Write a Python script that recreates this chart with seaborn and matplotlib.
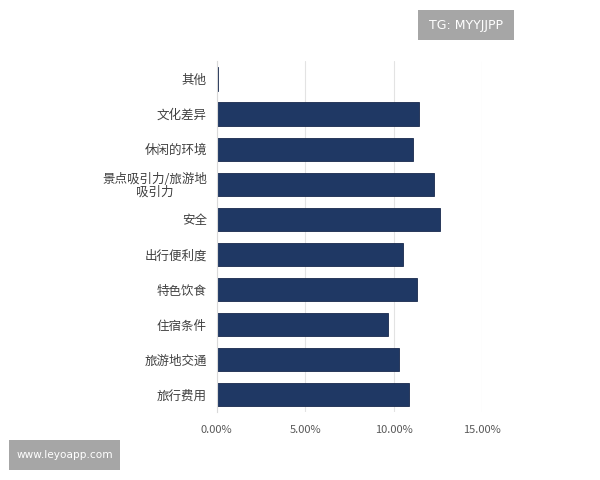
import matplotlib
matplotlib.use("Agg")
import matplotlib.pyplot as plt
import seaborn as sns
import pandas as pd
from matplotlib.ticker import FuncFormatter
from matplotlib.patches import Rectangle

categories = ["其他", "文化差异", "休闲的环境", "景点吸引力/旅游地\n吸引力", "安全",
              "出行便利度", "特色饮食", "住宿条件", "旅游地交通", "旅行费用"]
values = [0.10, 11.45, 11.10, 12.25, 12.60, 10.50, 11.33, 9.68, 10.30, 10.83]
x_ticks = [0, 5, 10, 15]

sns.set_theme(style="white")
plt.rcParams['font.family'] = ['Noto Sans CJK SC', 'DejaVu Sans']

df = pd.DataFrame({"cat": categories, "val": values})

fig = plt.figure(figsize=(6, 4.8), dpi=100)
ax = fig.add_axes([0.361, 0.141, 0.443, 0.731])
sns.barplot(data=df, x="val", y="cat", orient="h", color="#1f3864",
            width=0.66, edgecolor="#18294d", linewidth=0.6, saturation=1, ax=ax)

ax.set_xlim(0, 15)
ax.set_xticks(x_ticks)
ax.xaxis.set_major_formatter(FuncFormatter(lambda v, p: f"{v:.2f}%"))
ax.grid(axis="x", color="#e3e3e3", linewidth=0.8)
ax.set_axisbelow(True)
for s in ["top", "right", "bottom"]:
    ax.spines[s].set_visible(False)
ax.spines["left"].set_color("#d9d9d9")
ax.spines["left"].set_linewidth(0.8)
ax.set_xlabel("")
ax.set_ylabel("")
ax.tick_params(axis="y", length=0, pad=7, labelsize=9, labelcolor="#404040")
ax.tick_params(axis="x", length=0, pad=9, labelsize=8, labelcolor="#595959")
for t in ax.get_yticklabels():
    t.set_multialignment("center")
    t.set_linespacing(1.0)

# watermark boxes (pixel coords -> figure fractions)
def box(x0, y0, x1, y1, label, fs):
    W, H = 600, 480
    fig.patches.append(Rectangle((x0 / W, 1 - y1 / H), (x1 - x0) / W, (y1 - y0) / H,
                                 transform=fig.transFigure, facecolor="#a6a6a6",
                                 edgecolor="none", zorder=5))
    fig.text((x0 + x1) / 2 / W, 1 - (y0 + y1) / 2 / H, label, ha="center", va="center",
             color="white", fontsize=fs, family=["DejaVu Sans"], zorder=6)

box(418, 10, 514, 40, "TG: MYYJJPP", 9)
box(9, 440, 120, 470, "www.leyoapp.com", 7.6)

fig.savefig("out.png", dpi=100)
